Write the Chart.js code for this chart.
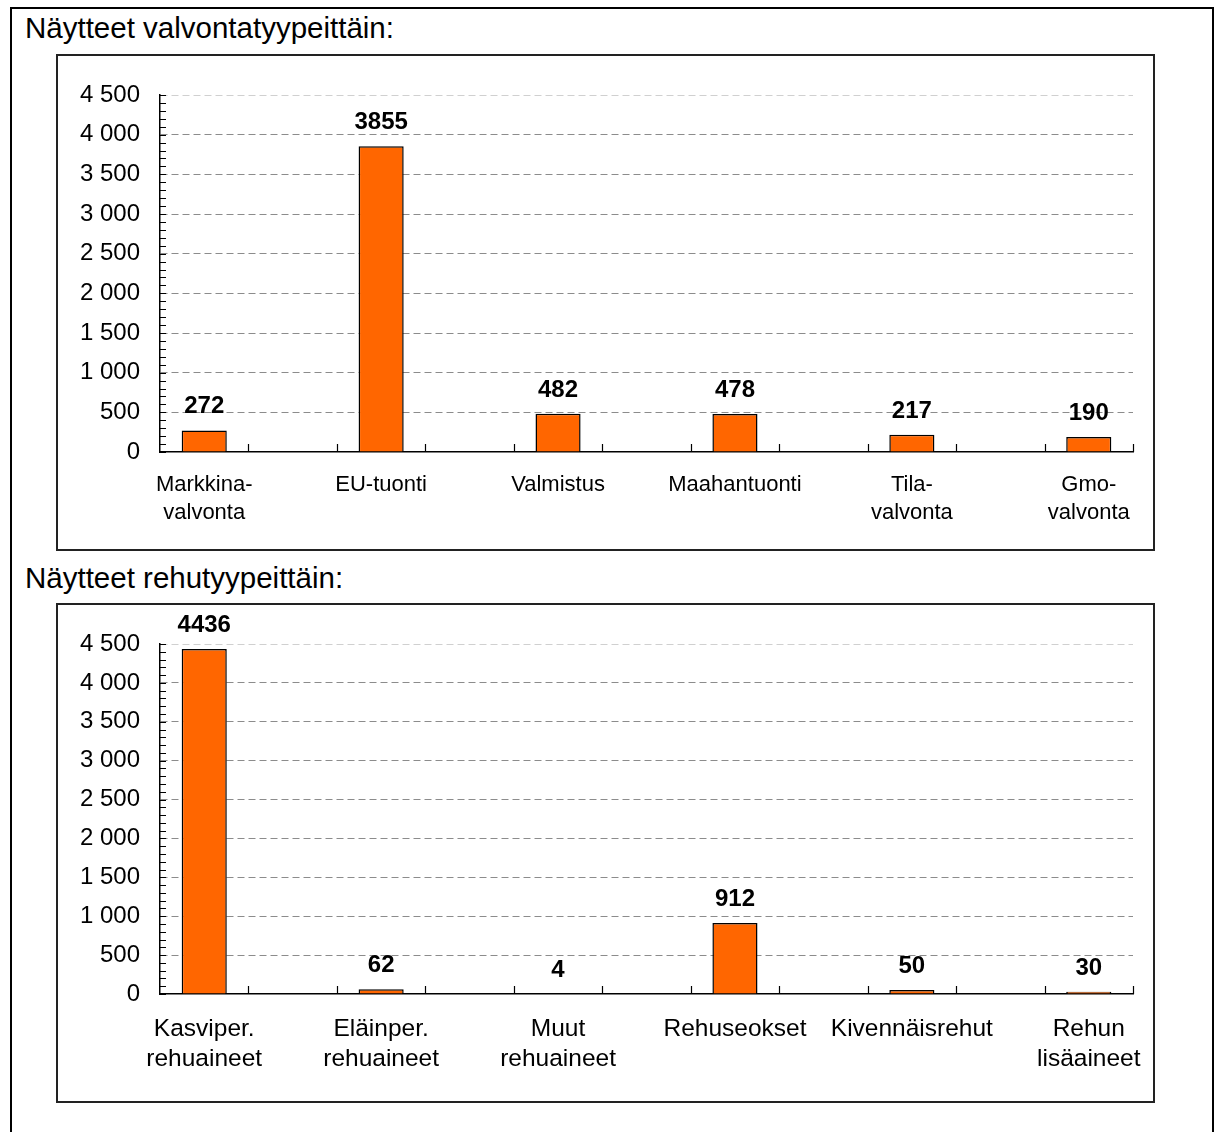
<!DOCTYPE html>
<html>
<head>
<meta charset="utf-8">
<script src="https://cdn.jsdelivr.net/npm/chart.js@4.4.1/dist/chart.umd.min.js"></script>
<style>
  body { margin: 0; background: #fff; font-family: "Liberation Sans", Arial, sans-serif; }
  .frame { position: absolute; left: 10px; top: 7px; width: 1204px; height: 1200px; border: 2px solid #000; box-sizing: border-box; }
  .title { position: absolute; left: 25px; font-size: 29.5px; line-height: 30px; color: #000; }
  .box { position: absolute; left: 56px; width: 1099px; border: 2px solid #222; box-sizing: border-box; }
  canvas { display: block; }
</style>
</head>
<body>
<div class="frame"></div>
<div class="title" style="top:13px">Näytteet valvontatyypeittäin:</div>
<div class="box" style="top:54px;height:497px"><canvas id="chart1" width="1095" height="493"></canvas></div>
<div class="title" style="top:563px">Näytteet rehutyypeittäin:</div>
<div class="box" style="top:603px;height:500px"><canvas id="chart2" width="1095" height="496"></canvas></div>
<script>
// Samples by control type
const controlTypes = [["Markkina-", "valvonta"], "EU-tuonti", "Valmistus", "Maahantuonti", ["Tila-", "valvonta"], ["Gmo-", "valvonta"]];
const controlSamples = [272, 3855, 482, 478, 217, 190];

// Samples by feed type
const feedTypes = [["Kasviper.", "rehuaineet"], ["Eläinper.", "rehuaineet"], ["Muut", "rehuaineet"], "Rehuseokset", "Kivennäisrehut", ["Rehun", "lisäaineet"]];
const feedSamples = [4436, 62, 4, 912, 50, 30];

const yTicks = [0, 500, 1000, 1500, 2000, 2500, 3000, 3500, 4000, 4500];

// the original sheet has an empty column between each category
function spread(arr, blank) {
  const out = [];
  arr.forEach((v, i) => {
    if (i > 0) out.push(blank);
    out.push(v);
  });
  return out;
}

const fmt = v => String(v).replace(/\B(?=(\d{3})+(?!\d))/g, " ");

const axisMarks = {
  id: "axisMarks",
  afterDatasetsDraw(chart) {
    const ctx = chart.ctx;
    const x = chart.scales.x, y = chart.scales.y;
    const base = y.getPixelForValue(0);
    ctx.save();
    ctx.strokeStyle = "#000";
    ctx.lineWidth = 1.2;
    ctx.beginPath();
    // minor ticks every 100 on the value axis
    for (let v = 0; v <= 4500; v += 100) {
      const py = Math.round(y.getPixelForValue(v)) + 0.5;
      ctx.moveTo(x.left, py);
      ctx.lineTo(x.left + 6, py);
    }
    // category separators pointing up
    const n = x.ticks.length;
    for (let i = 1; i <= n; i++) {
      const px = i < n ? (x.getPixelForTick(i - 1) + x.getPixelForTick(i)) / 2 : x.right;
      ctx.moveTo(Math.round(px) + 0.5, base);
      ctx.lineTo(Math.round(px) + 0.5, base - 8);
    }
    ctx.stroke();
    ctx.restore();
  }
};

const valueLabels = {
  id: "valueLabels",
  afterDatasetsDraw(chart) {
    const ctx = chart.ctx;
    const meta = chart.getDatasetMeta(0);
    const data = chart.data.datasets[0].data;
    ctx.save();
    ctx.font = "bold 24px 'Liberation Sans', Arial, sans-serif";
    ctx.fillStyle = "#000";
    ctx.textAlign = "center";
    ctx.textBaseline = "alphabetic";
    meta.data.forEach((bar, i) => {
      if (data[i] == null) return;
      ctx.fillText(String(data[i]), bar.x, bar.y - 17);
    });
    ctx.restore();
  }
};

function makeChart(id, cats, vals, xHeight, labelSize, labelPad, labelLine) {
  new Chart(document.getElementById(id), {
    type: "bar",
    data: {
      labels: spread(cats, ""),
      datasets: [{
        data: spread(vals, null),
        backgroundColor: "#FF6600",
        borderColor: "#000",
        borderWidth: 1.5,
        barPercentage: 0.51,
        categoryPercentage: 1
      }]
    },
    options: {
      responsive: false,
      animation: false,
      layout: { padding: { top: 39, right: 20, left: 0, bottom: 0 } },
      plugins: { legend: { display: false }, tooltip: { enabled: false } },
      scales: {
        x: {
          offset: true,
          grid: { display: false, drawTicks: false },
          border: { display: true, color: "#000", width: 1.5 },
          ticks: {
            color: "#000",
            padding: labelPad,
            maxRotation: 0,
            autoSkip: false,
            font: { family: "'Liberation Sans', Arial, sans-serif", size: labelSize, lineHeight: labelLine }
          },
          afterFit: s => {
            s.height = xHeight;
            s.paddingLeft = 0;
            s.paddingRight = 0;
          }
        },
        y: {
          min: 0,
          max: 4500,
          afterBuildTicks: s => { s.ticks = yTicks.map(v => ({ value: v })); },
          grid: {
            drawTicks: false,
            color: c => c.tick.value === 4500 ? "#d0d0d0" : (c.tick.value === 0 ? "rgba(0,0,0,0)" : "#8c8c8c"),
            lineWidth: 1
          },
          border: { display: true, color: "#000", width: 1.5, dash: [7, 4] },
          ticks: {
            color: "#000",
            padding: 20,
            callback: v => fmt(v),
            font: { family: "'Liberation Sans', Arial, sans-serif", size: 24 }
          },
          afterFit: s => { s.width = 102; }
        }
      }
    },
    plugins: [axisMarks, valueLabels]
  });
}

makeChart("chart1", controlTypes, controlSamples, 97, 22, 19, 1.27);
makeChart("chart2", feedTypes, feedSamples, 107, 24.5, 20, 1.22);
</script>
</body>
</html>
